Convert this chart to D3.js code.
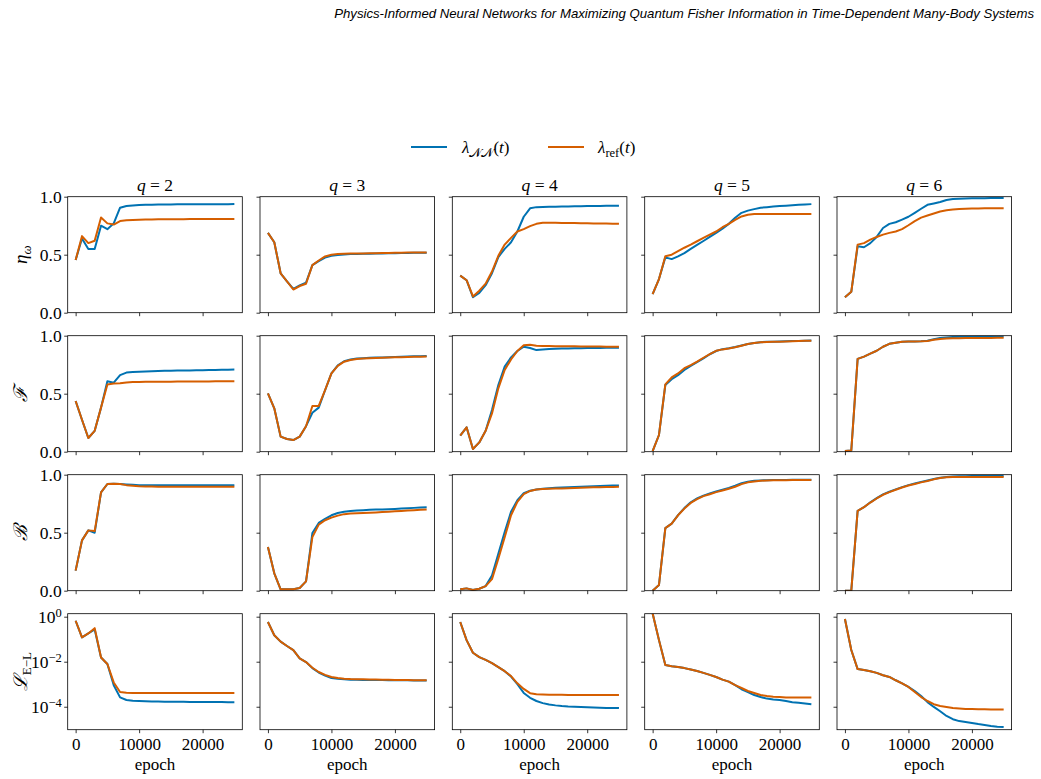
<!DOCTYPE html>
<html>
<head>
<meta charset="utf-8">
<script src="https://cdn.jsdelivr.net/npm/d3@7"></script>
<style>
  body { margin: 0; background: #fff; }
  svg text { font-family: "Liberation Serif", "DejaVu Serif", serif; fill: #000; }
</style>
</head>
<body>
<div id="chart"></div>
<script>
// epochs sampled every 1000 steps
const epochs = [0, 1000, 2000, 3000, 4000, 5000, 6000, 7000, 8000, 9000, 10000, 11000, 12000,
  13000, 14000, 15000, 16000, 17000, 18000, 19000, 20000, 21000, 22000, 23000, 24000, 25000];
const qValues = [2, 3, 4, 5, 6];
const xTicks = [0, 10000, 20000];

// eta_omega, one array per q
const etaNN = [
  [0.454, 0.64, 0.55, 0.55, 0.75, 0.72, 0.77, 0.905, 0.92, 0.925, 0.928, 0.93, 0.931, 0.932, 0.933, 0.933, 0.934, 0.934, 0.934, 0.935, 0.935, 0.935, 0.935, 0.935, 0.935, 0.936],
  [0.688, 0.607, 0.34, 0.27, 0.205, 0.235, 0.26, 0.41, 0.445, 0.475, 0.49, 0.497, 0.502, 0.505, 0.507, 0.508, 0.509, 0.51, 0.511, 0.512, 0.513, 0.514, 0.515, 0.516, 0.516, 0.517],
  [0.32, 0.28, 0.133, 0.17, 0.237, 0.34, 0.48, 0.55, 0.607, 0.70, 0.827, 0.90, 0.91, 0.912, 0.913, 0.914, 0.915, 0.916, 0.917, 0.918, 0.919, 0.92, 0.92, 0.921, 0.921, 0.922],
  [0.16, 0.29, 0.477, 0.462, 0.486, 0.514, 0.55, 0.584, 0.618, 0.653, 0.688, 0.725, 0.766, 0.818, 0.861, 0.88, 0.893, 0.905, 0.91, 0.915, 0.919, 0.923, 0.927, 0.93, 0.933, 0.936],
  [0.133, 0.18, 0.572, 0.564, 0.60, 0.653, 0.73, 0.766, 0.78, 0.803, 0.827, 0.861, 0.896, 0.93, 0.942, 0.954, 0.971, 0.98, 0.983, 0.985, 0.986, 0.987, 0.987, 0.988, 0.988, 0.988]
];
const etaRef = [
  [0.454, 0.66, 0.60, 0.62, 0.82, 0.77, 0.76, 0.79, 0.796, 0.80, 0.802, 0.803, 0.804, 0.805, 0.805, 0.806, 0.806, 0.806, 0.807, 0.807, 0.807, 0.807, 0.807, 0.807, 0.807, 0.807],
  [0.688, 0.607, 0.34, 0.27, 0.20, 0.23, 0.25, 0.41, 0.45, 0.485, 0.50, 0.505, 0.508, 0.51, 0.51, 0.511, 0.512, 0.513, 0.514, 0.515, 0.516, 0.517, 0.518, 0.518, 0.519, 0.52],
  [0.32, 0.28, 0.14, 0.19, 0.25, 0.355, 0.49, 0.587, 0.645, 0.70, 0.72, 0.746, 0.766, 0.775, 0.775, 0.775, 0.774, 0.774, 0.773, 0.772, 0.771, 0.77, 0.769, 0.768, 0.767, 0.766],
  [0.16, 0.29, 0.486, 0.50, 0.53, 0.56, 0.587, 0.616, 0.645, 0.673, 0.70, 0.737, 0.766, 0.80, 0.83, 0.844, 0.85, 0.85, 0.85, 0.85, 0.85, 0.85, 0.85, 0.85, 0.85, 0.85],
  [0.133, 0.18, 0.587, 0.60, 0.63, 0.653, 0.673, 0.688, 0.70, 0.72, 0.754, 0.79, 0.82, 0.838, 0.855, 0.873, 0.884, 0.89, 0.893, 0.896, 0.898, 0.899, 0.9, 0.9, 0.9, 0.9]
];

// fidelity F
const fidNN = [
  [0.437, 0.275, 0.118, 0.18, 0.38, 0.607, 0.595, 0.66, 0.682, 0.688, 0.69, 0.692, 0.694, 0.695, 0.697, 0.698, 0.699, 0.70, 0.701, 0.702, 0.703, 0.704, 0.705, 0.706, 0.707, 0.708],
  [0.503, 0.374, 0.13, 0.11, 0.10, 0.13, 0.22, 0.336, 0.38, 0.53, 0.675, 0.745, 0.78, 0.795, 0.803, 0.806, 0.809, 0.811, 0.813, 0.815, 0.817, 0.819, 0.82, 0.822, 0.823, 0.825],
  [0.138, 0.21, 0.023, 0.08, 0.18, 0.36, 0.575, 0.733, 0.813, 0.868, 0.905, 0.894, 0.876, 0.882, 0.885, 0.888, 0.889, 0.89, 0.891, 0.892, 0.893, 0.894, 0.895, 0.896, 0.896, 0.897],
  [0.005, 0.144, 0.575, 0.625, 0.66, 0.705, 0.74, 0.772, 0.805, 0.84, 0.868, 0.884, 0.892, 0.902, 0.915, 0.929, 0.938, 0.944, 0.947, 0.948, 0.95, 0.952, 0.954, 0.955, 0.957, 0.958],
  [0.005, 0.01, 0.80, 0.82, 0.845, 0.87, 0.905, 0.93, 0.94, 0.948, 0.95, 0.951, 0.952, 0.956, 0.97, 0.98, 0.985, 0.988, 0.99, 0.991, 0.992, 0.993, 0.993, 0.994, 0.994, 0.995]
];
const fidRef = [
  [0.437, 0.275, 0.118, 0.18, 0.38, 0.58, 0.587, 0.59, 0.597, 0.60, 0.601, 0.602, 0.603, 0.603, 0.604, 0.604, 0.605, 0.605, 0.605, 0.606, 0.606, 0.606, 0.607, 0.607, 0.607, 0.607],
  [0.503, 0.374, 0.13, 0.11, 0.10, 0.13, 0.22, 0.394, 0.394, 0.53, 0.675, 0.74, 0.776, 0.79, 0.80, 0.803, 0.806, 0.808, 0.81, 0.812, 0.814, 0.815, 0.816, 0.818, 0.819, 0.82],
  [0.138, 0.21, 0.023, 0.08, 0.18, 0.33, 0.546, 0.704, 0.796, 0.868, 0.917, 0.922, 0.914, 0.912, 0.911, 0.91, 0.909, 0.908, 0.908, 0.907, 0.907, 0.906, 0.906, 0.905, 0.905, 0.905],
  [0.005, 0.144, 0.58, 0.64, 0.675, 0.72, 0.747, 0.776, 0.81, 0.842, 0.87, 0.882, 0.89, 0.90, 0.914, 0.928, 0.937, 0.943, 0.946, 0.947, 0.948, 0.95, 0.952, 0.954, 0.956, 0.957],
  [0.005, 0.01, 0.80, 0.82, 0.845, 0.87, 0.905, 0.93, 0.94, 0.948, 0.95, 0.951, 0.952, 0.955, 0.965, 0.972, 0.976, 0.978, 0.979, 0.98, 0.98, 0.98, 0.981, 0.981, 0.982, 0.982]
];

// B
const bNN = [
  [0.173, 0.434, 0.52, 0.50, 0.847, 0.92, 0.922, 0.92, 0.916, 0.913, 0.91, 0.909, 0.909, 0.908, 0.908, 0.908, 0.908, 0.909, 0.909, 0.909, 0.909, 0.91, 0.91, 0.91, 0.91, 0.91],
  [0.376, 0.15, 0.012, 0.012, 0.012, 0.023, 0.08, 0.497, 0.584, 0.62, 0.65, 0.67, 0.68, 0.688, 0.691, 0.694, 0.697, 0.699, 0.701, 0.703, 0.705, 0.708, 0.711, 0.714, 0.717, 0.72],
  [0.012, 0.02, 0.006, 0.017, 0.04, 0.13, 0.318, 0.506, 0.68, 0.78, 0.84, 0.862, 0.873, 0.879, 0.883, 0.887, 0.89, 0.892, 0.895, 0.897, 0.899, 0.901, 0.903, 0.905, 0.906, 0.907],
  [0.0, 0.05, 0.54, 0.578, 0.652, 0.712, 0.762, 0.795, 0.82, 0.838, 0.855, 0.87, 0.886, 0.905, 0.926, 0.94, 0.947, 0.951, 0.953, 0.954, 0.955, 0.955, 0.956, 0.956, 0.956, 0.956],
  [0.0, 0.0, 0.688, 0.72, 0.762, 0.798, 0.83, 0.853, 0.873, 0.893, 0.91, 0.924, 0.938, 0.95, 0.963, 0.974, 0.98, 0.984, 0.986, 0.987, 0.988, 0.988, 0.989, 0.989, 0.99, 0.99]
];
const bRef = [
  [0.173, 0.434, 0.52, 0.514, 0.847, 0.92, 0.922, 0.92, 0.91, 0.905, 0.90, 0.899, 0.898, 0.897, 0.897, 0.896, 0.896, 0.896, 0.896, 0.896, 0.896, 0.896, 0.896, 0.896, 0.896, 0.896],
  [0.376, 0.15, 0.012, 0.012, 0.012, 0.023, 0.08, 0.462, 0.57, 0.607, 0.63, 0.647, 0.66, 0.665, 0.668, 0.67, 0.672, 0.675, 0.678, 0.681, 0.685, 0.688, 0.691, 0.694, 0.697, 0.70],
  [0.012, 0.02, 0.006, 0.017, 0.04, 0.10, 0.275, 0.46, 0.65, 0.766, 0.832, 0.86, 0.873, 0.876, 0.878, 0.88, 0.882, 0.884, 0.886, 0.888, 0.89, 0.891, 0.892, 0.894, 0.895, 0.896],
  [0.0, 0.05, 0.54, 0.578, 0.65, 0.708, 0.757, 0.789, 0.815, 0.832, 0.85, 0.864, 0.879, 0.896, 0.919, 0.934, 0.942, 0.948, 0.951, 0.952, 0.953, 0.953, 0.954, 0.954, 0.954, 0.954],
  [0.0, 0.0, 0.688, 0.72, 0.76, 0.795, 0.827, 0.85, 0.87, 0.89, 0.907, 0.92, 0.934, 0.945, 0.96, 0.971, 0.977, 0.98, 0.98, 0.98, 0.98, 0.98, 0.98, 0.98, 0.98, 0.98]
];

// Euler-Lagrange loss (log axis)
const lossNN = [
  [0.66, 0.12, 0.18, 0.27, 0.0155, 0.0079, 9.0e-4, 2.6e-4, 2.0e-4, 1.85e-4, 1.8e-4, 1.75e-4, 1.72e-4, 1.7e-4, 1.68e-4, 1.67e-4, 1.66e-4, 1.65e-4, 1.64e-4, 1.63e-4, 1.62e-4, 1.62e-4, 1.61e-4, 1.61e-4, 1.6e-4, 1.6e-4],
  [0.58, 0.15, 0.078, 0.05, 0.033, 0.014, 0.0097, 5.2e-3, 3.3e-3, 2.4e-3, 1.9e-3, 1.75e-3, 1.65e-3, 1.6e-3, 1.58e-3, 1.56e-3, 1.55e-3, 1.54e-3, 1.53e-3, 1.52e-3, 1.51e-3, 1.5e-3, 1.49e-3, 1.47e-3, 1.46e-3, 1.45e-3],
  [0.58, 0.091, 0.025, 0.016, 0.012, 0.0087, 0.0058, 0.0038, 0.0022, 0.001, 4.1e-4, 2.5e-4, 1.8e-4, 1.45e-4, 1.26e-4, 1.15e-4, 1.07e-4, 1.02e-4, 1.0e-4, 9.8e-5, 9.5e-5, 9.3e-5, 9.1e-5, 8.9e-5, 8.9e-5, 8.7e-5],
  [1.4, 0.091, 0.0071, 0.0063, 0.0058, 0.0052, 0.0045, 0.0039, 0.0032, 0.0026, 0.0021, 0.0016, 0.0013, 9.1e-4, 6.0e-4, 4.5e-4, 3.3e-4, 2.7e-4, 2.3e-4, 2.1e-4, 2.0e-4, 1.8e-4, 1.6e-4, 1.5e-4, 1.4e-4, 1.3e-4],
  [0.79, 0.033, 0.0047, 0.0043, 0.0038, 0.0032, 0.0025, 0.0021, 0.0015, 0.0011, 7.6e-4, 5.0e-4, 3.0e-4, 1.6e-4, 9.8e-5, 6.3e-5, 3.9e-5, 2.8e-5, 2.3e-5, 2.1e-5, 1.9e-5, 1.7e-5, 1.55e-5, 1.4e-5, 1.3e-5, 1.25e-5]
];
const lossRef = [
  [0.66, 0.12, 0.18, 0.31, 0.0155, 0.0079, 1.2e-3, 4.5e-4, 4.2e-4, 4.1e-4, 4.1e-4, 4.1e-4, 4.1e-4, 4.1e-4, 4.1e-4, 4.1e-4, 4.1e-4, 4.1e-4, 4.1e-4, 4.1e-4, 4.1e-4, 4.1e-4, 4.1e-4, 4.1e-4, 4.1e-4, 4.1e-4],
  [0.58, 0.15, 0.078, 0.05, 0.033, 0.014, 0.0097, 5.4e-3, 3.5e-3, 2.6e-3, 2.1e-3, 1.9e-3, 1.75e-3, 1.7e-3, 1.68e-3, 1.66e-3, 1.64e-3, 1.62e-3, 1.6e-3, 1.58e-3, 1.56e-3, 1.55e-3, 1.54e-3, 1.52e-3, 1.51e-3, 1.5e-3],
  [0.58, 0.091, 0.025, 0.016, 0.012, 0.0087, 0.0058, 0.0038, 0.0023, 0.0011, 6.2e-4, 4.0e-4, 3.6e-4, 3.5e-4, 3.4e-4, 3.4e-4, 3.4e-4, 3.3e-4, 3.3e-4, 3.3e-4, 3.3e-4, 3.3e-4, 3.3e-4, 3.3e-4, 3.3e-4, 3.3e-4],
  [1.4, 0.091, 0.0071, 0.0063, 0.0058, 0.0052, 0.0045, 0.0039, 0.0032, 0.0026, 0.0021, 0.0016, 0.0013, 9.1e-4, 6.8e-4, 5.0e-4, 4.1e-4, 3.3e-4, 3.0e-4, 2.8e-4, 2.7e-4, 2.6e-4, 2.6e-4, 2.6e-4, 2.6e-4, 2.6e-4],
  [0.79, 0.033, 0.0047, 0.0043, 0.0038, 0.0032, 0.0025, 0.0021, 0.0015, 0.0011, 7.6e-4, 4.5e-4, 2.7e-4, 1.8e-4, 1.3e-4, 1.07e-4, 9.8e-5, 8.7e-5, 8.3e-5, 7.9e-5, 7.9e-5, 7.8e-5, 7.8e-5, 7.6e-5, 7.6e-5, 7.6e-5]
];

const blue = "#0072B2";
const orange = "#D55E00";

const width = 1041;
const height = 779;

const svg = d3.select("#chart")
  .append("svg")
  .attr("width", width)
  .attr("height", height);

const colLeft = [67.7, 260, 452.3, 644.7, 837];
const rowTop = [196.7, 335.7, 474.7, 613.7];
const pw = 174.6;
const ph = 116;
const fs = 17.5;

const x = d3.scaleLinear().domain([-1250, 26250]).range([0, pw]);
const yLin = d3.scaleLinear().domain([0, 1]).range([ph, 0]);
const yLog = d3.scaleLog().domain([Math.pow(10, -5.02), Math.pow(10, 0.133)]).range([ph, 0]);

const rows = [
  { nn: etaNN, ref: etaRef, y: yLin },
  { nn: fidNN, ref: fidRef, y: yLin },
  { nn: bNN, ref: bRef, y: yLin },
  { nn: lossNN, ref: lossRef, y: yLog }
];

// suptitle
svg.append("text")
  .attr("x", 1034)
  .attr("y", 18)
  .attr("text-anchor", "end")
  .style("font-family", "'Liberation Sans', Arial, sans-serif")
  .style("font-style", "italic")
  .attr("font-size", "13.2px")
  .text("Physics-Informed Neural Networks for Maximizing Quantum Fisher Information in Time-Dependent Many-Body Systems");

// legend
const legend = svg.append("g");
legend.append("line").attr("x1", 411).attr("x2", 447).attr("y1", 147).attr("y2", 147)
  .attr("stroke", blue).attr("stroke-width", 2);
const l1 = legend.append("text").attr("x", 462).attr("y", 153).attr("font-size", "17px");
l1.append("tspan").style("font-style", "italic").text("λ");
l1.append("tspan").attr("dy", 4).attr("font-size", "12.5px").text("𝒩𝒩");
l1.append("tspan").attr("dy", -4).text("(");
l1.append("tspan").style("font-style", "italic").text("t");
l1.append("tspan").text(")");

legend.append("line").attr("x1", 548).attr("x2", 584).attr("y1", 147).attr("y2", 147)
  .attr("stroke", orange).attr("stroke-width", 2);
const l2 = legend.append("text").attr("x", 598).attr("y", 153).attr("font-size", "17px");
l2.append("tspan").style("font-style", "italic").text("λ");
l2.append("tspan").attr("dy", 4).attr("font-size", "12.5px").text("ref");
l2.append("tspan").attr("dy", -4).text("(");
l2.append("tspan").style("font-style", "italic").text("t");
l2.append("tspan").text(")");

const defs = svg.append("defs");
defs.append("clipPath").attr("id", "panel-clip")
  .append("rect").attr("width", pw).attr("height", ph);

rows.forEach((row, r) => {
  qValues.forEach((q, c) => {
    const g = svg.append("g")
      .attr("transform", `translate(${colLeft[c]},${rowTop[r]})`);
    const y = row.y;

    const line = d3.line()
      .x((d, i) => x(epochs[i]))
      .y(d => y(d));

    const plot = g.append("g").attr("clip-path", "url(#panel-clip)");
    plot.append("path").datum(row.nn[c])
      .attr("d", line).attr("fill", "none")
      .attr("stroke", blue).attr("stroke-width", 2).attr("stroke-linejoin", "round");
    plot.append("path").datum(row.ref[c])
      .attr("d", line).attr("fill", "none")
      .attr("stroke", orange).attr("stroke-width", 2).attr("stroke-linejoin", "round");

    // x axis
    const xa = g.append("g")
      .attr("transform", `translate(0,${ph})`)
      .call(d3.axisBottom(x).tickValues(xTicks).tickSize(3.5).tickSizeOuter(0)
        .tickFormat(r === 3 ? d3.format("d") : ""));
    xa.select(".domain").remove();
    xa.selectAll("line").attr("stroke", "#000").attr("stroke-width", 0.8);
    xa.selectAll("text").attr("font-size", "17px").attr("dy", "0.95em").attr("y", 4);
    xa.attr("font-family", null).attr("font-size", null);

    // y axis
    const ticksY = r === 3 ? [1, 1e-2, 1e-4] : [0, 0.5, 1];
    const ya = g.append("g")
      .call(d3.axisLeft(y).tickValues(ticksY).tickSize(3.5).tickSizeOuter(0).tickFormat(""));
    ya.select(".domain").remove();
    ya.selectAll("line").attr("stroke", "#000").attr("stroke-width", 0.8);
    ya.attr("font-family", null).attr("font-size", null);

    if (c === 0) {
      ticksY.forEach(v => {
        const t = g.append("text")
          .attr("x", -6)
          .attr("y", y(v))
          .attr("dy", "0.35em")
          .attr("text-anchor", "end")
          .attr("font-size", fs + "px");
        if (r === 3) {
          const e = Math.round(Math.log10(v));
          t.append("tspan").text("10");
          t.append("tspan").attr("dy", "-0.45em").attr("font-size", "12.5px")
            .text(e === 0 ? "0" : "−" + Math.abs(e));
        } else {
          t.text(d3.format(".1f")(v));
        }
      });
    }

    // frame
    g.append("rect")
      .attr("width", pw).attr("height", ph)
      .attr("fill", "none").attr("stroke", "#000").attr("stroke-width", 0.8);

    if (r === 0) {
      const tt = g.append("text")
        .attr("x", pw / 2).attr("y", -6)
        .attr("text-anchor", "middle")
        .attr("font-size", fs + "px");
      tt.append("tspan").style("font-style", "italic").text("q");
      tt.append("tspan").text(" = " + q);
    }
    if (r === 3) {
      g.append("text")
        .attr("x", pw / 2).attr("y", ph + 40)
        .attr("text-anchor", "middle")
        .attr("font-size", "17px")
        .text("epoch");
    }
  });
});

// y labels
const yLabelX = 27;
function yLabel(r) {
  return svg.append("text")
    .attr("transform", `translate(${yLabelX},${rowTop[r] + ph / 2}) rotate(-90)`)
    .attr("text-anchor", "middle")
    .attr("font-size", "19px");
}
const ly0 = yLabel(0);
ly0.append("tspan").style("font-style", "italic").text("η");
ly0.append("tspan").attr("dy", 4).attr("font-size", "13px").style("font-style", "italic").text("ω");
yLabel(1).append("tspan").style("font-style", "italic").text("ℱ");
yLabel(2).append("tspan").style("font-style", "italic").text("ℬ");
const ly3 = yLabel(3);
ly3.append("tspan").style("font-style", "italic").text("ℒ");
ly3.append("tspan").attr("dy", 4).attr("font-size", "13px").text("E−L");
</script>
</body>
</html>
